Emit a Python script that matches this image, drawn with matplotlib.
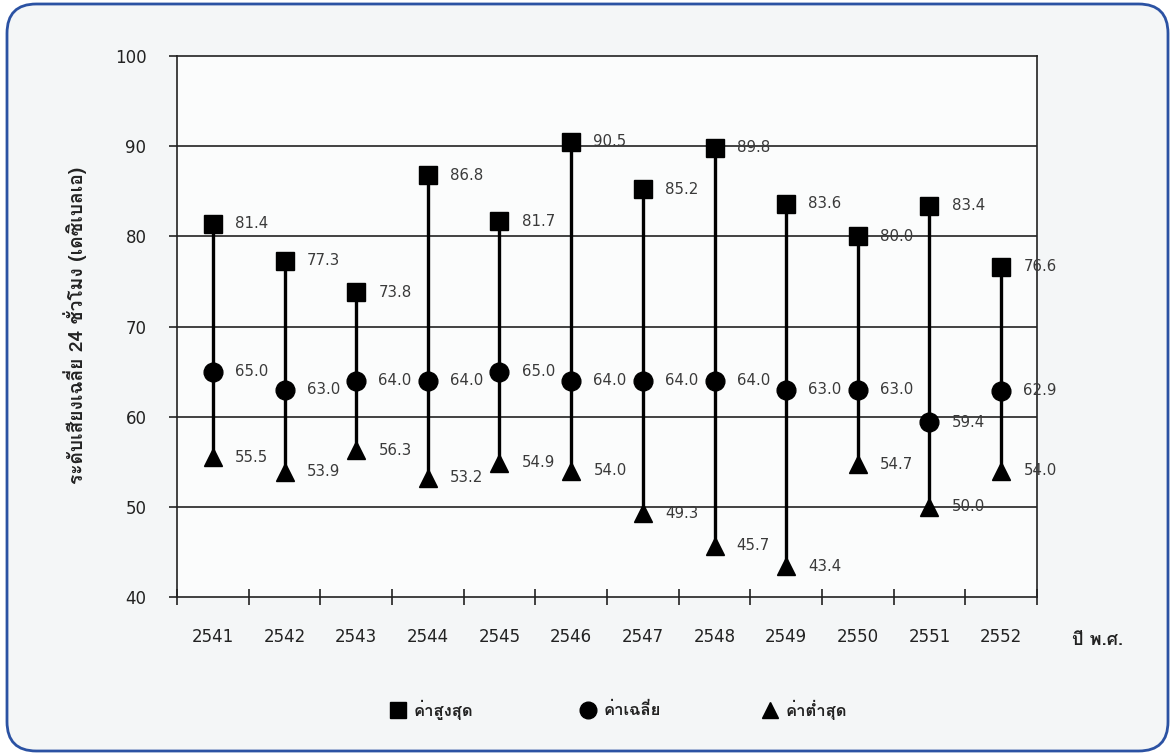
import matplotlib
matplotlib.use("Agg")
import matplotlib.pyplot as plt
from matplotlib import font_manager
from matplotlib.patches import FancyBboxPatch
from matplotlib.lines import Line2D

# ---- data ----
years = ["2541", "2542", "2543", "2544", "2545", "2546",
         "2547", "2548", "2549", "2550", "2551", "2552"]
max_vals = [81.4, 77.3, 73.8, 86.8, 81.7, 90.5, 85.2, 89.8, 83.6, 80.0, 83.4, 76.6]
avg_vals = [65.0, 63.0, 64.0, 64.0, 65.0, 64.0, 64.0, 64.0, 63.0, 63.0, 59.4, 62.9]
min_vals = [55.5, 53.9, 56.3, 53.2, 54.9, 54.0, 49.3, 45.7, 43.4, 54.7, 50.0, 54.0]
legend_labels = ["ค่าสูงสุด", "ค่าเฉลี่ย", "ค่าต่ำสุด"]
y_label = "ระดับเสียงเฉลี่ย 24 ชั่วโมง (เดซิเบลเอ)"
x_label = "ปี พ.ศ."
y_ticks = [40, 50, 60, 70, 80, 90, 100]

# pick an installed Thai-capable family, with DejaVu Sans as the fallback
installed = {fe.name for fe in font_manager.fontManager.ttflist}
thai_family = [f for f in ["Loma", "Noto Sans Thai Looped", "Noto Sans Thai"]
               if f in installed][:1]
plt.rcParams["font.family"] = thai_family + ["DejaVu Sans"]
NUM_FONT = ["DejaVu Sans"]
INK = "#222222"

fig = plt.figure(figsize=(11.72, 7.55), dpi=100)
fig.patch.set_facecolor("white")

# rounded panel behind the chart
frame = FancyBboxPatch((7 / 1172, 4 / 755), (1168 - 7) / 1172, (751 - 4) / 755,
                       boxstyle="round,pad=0,rounding_size=0.025",
                       transform=fig.transFigure, facecolor="#f4f6f7",
                       edgecolor="#2b52a3", linewidth=2.0, zorder=-10,
                       mutation_aspect=1172 / 755)
fig.patches.append(frame)

ax = fig.add_axes([177 / 1172, 1 - 597 / 755, (1037 - 177) / 1172, (597 - 56) / 755])
ax.set_facecolor("#fbfcfc")

n = len(years)
x = list(range(n))
ax.set_xlim(-0.5, n - 0.5)
ax.set_ylim(40, 100)

for y in y_ticks[1:-1]:
    ax.axhline(y, color=INK, linewidth=1.2, zorder=1)

# min-max range lines with the three markers
ax.vlines(x, min_vals, max_vals, color="black", linewidth=2.4, zorder=2)
ax.plot(x, max_vals, "s", color="black", markersize=13, zorder=3)
ax.plot(x, avg_vals, "o", color="black", markersize=13.5, zorder=3)
ax.plot(x, min_vals, "^", color="black", markersize=13, zorder=3)

for series in (max_vals, avg_vals, min_vals):
    for xi, v in zip(x, series):
        ax.annotate(f"{v:.1f}", (xi, v), xytext=(16, 0), textcoords="offset points",
                    ha="left", va="center", fontsize=10.8, color="#3a3a3a",
                    family=NUM_FONT, zorder=4)

for s in ax.spines.values():
    s.set_color(INK)
    s.set_linewidth(1.2)

ax.set_yticks(y_ticks)
ax.set_yticklabels([str(v) for v in y_ticks], fontsize=12, color=INK,
                   family=NUM_FONT)
ax.tick_params(axis="y", length=6, width=1.2, color=INK, pad=16)

ax.set_xticks([i - 0.5 for i in range(n + 1)])
ax.set_xticklabels([])
ax.tick_params(axis="x", which="major", direction="inout", length=12, width=1.2,
               color=INK)
ax.set_xticks(x, minor=True)
ax.set_xticklabels(years, minor=True, fontsize=12, color=INK, family=NUM_FONT)
ax.tick_params(axis="x", which="minor", length=0, pad=22)

fig.text(75 / 1172, 1 - 325 / 755, y_label, rotation=90, ha="center", va="center",
         fontsize=13.8, fontweight="bold", color=INK)
fig.text(1097 / 1172, 1 - 640 / 755, x_label, ha="center", va="center",
         fontsize=13, fontweight="bold", color=INK)

# legend row
legend_marks = ["s", "o", "^"]
legend_x = [398, 588, 770]
ly = 1 - 710 / 755
for mk, lx, lab in zip(legend_marks, legend_x, legend_labels):
    fig.add_artist(Line2D([lx / 1172], [ly], marker=mk, color="black", markersize=12,
                          linestyle="none", transform=fig.transFigure))
    fig.text((lx + 16) / 1172, ly, lab, ha="left", va="center", fontsize=12,
             fontweight="bold", color=INK)

fig.savefig("out.png", dpi=100, facecolor=fig.get_facecolor())
